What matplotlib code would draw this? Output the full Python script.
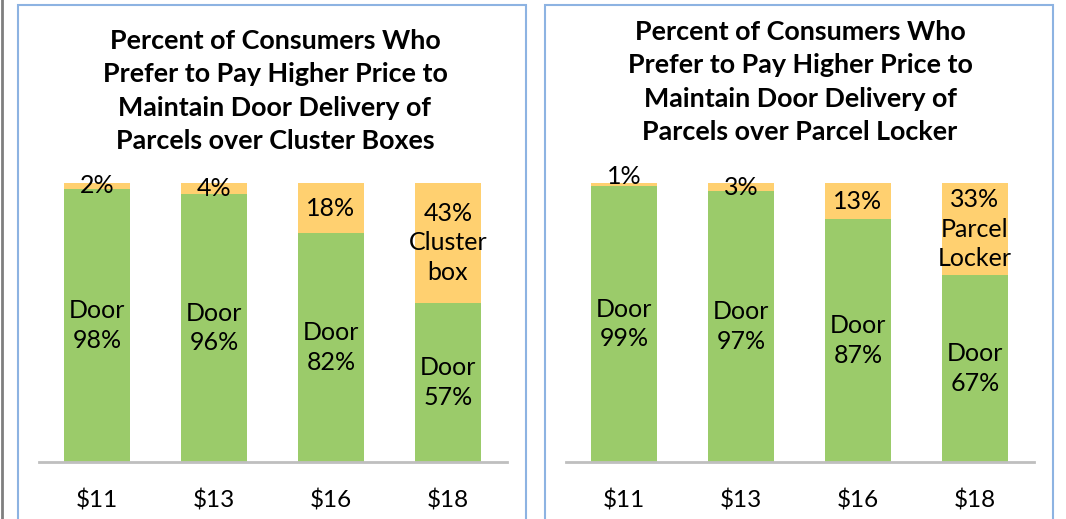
import matplotlib
matplotlib.use("Agg")
import matplotlib.pyplot as plt
from matplotlib.patches import Rectangle
from matplotlib.lines import Line2D

plt.rcParams['font.family'] = ['Lato', 'DejaVu Sans']

prices = ["$11", "$13", "$16", "$18"]
door_cluster = [98, 96, 82, 57]
cluster = [2, 4, 18, 43]
door_locker = [99, 97, 87, 67]
locker = [1, 3, 13, 33]

title_left = "Percent of Consumers Who\nPrefer to Pay Higher Price to\nMaintain Door Delivery of\nParcels over Cluster Boxes"
title_right = "Percent of Consumers Who\nPrefer to Pay Higher Price to\nMaintain Door Delivery of\nParcels over Parcel Locker"
alt_left = ["", "", "", "\nCluster\nbox"]
alt_right = ["", "", "", "\nParcel\nLocker"]

GREEN = "#9BCB6A"
ORANGE = "#FFD070"
W, H = 1066, 519
fig = plt.figure(figsize=(W / 100, H / 100), dpi=100)


def px_rect(x0, y0, x1, y1):
    return [x0 / W, 1 - y1 / H, (x1 - x0) / W, (y1 - y0) / H]


# panel borders
fig.add_artist(Line2D([2 / W, 2 / W], [0, 1], color="#7f7f7f", lw=2))
for x0, x1 in [(18, 526), (545, 1053)]:
    fig.add_artist(Rectangle((x0 / W, -0.05), (x1 - x0) / W, (1.05 - 5 / H),
                             fill=False, edgecolor="#8DB3E2", lw=1.5))


def panel(ax_rect, door, alt, alt_txt, title, title_xy):
    ax = fig.add_axes(px_rect(*ax_rect))
    x = list(range(len(prices)))
    ax.bar(x, door, width=0.565, color=GREEN)
    ax.bar(x, alt, width=0.565, bottom=door, color=ORANGE)
    ax.set_xlim(-0.5, 3.5)
    ax.set_ylim(0, 100)
    for s in ["top", "right", "left"]:
        ax.spines[s].set_visible(False)
    ax.spines["bottom"].set_color("#BFBFBF")
    ax.spines["bottom"].set_linewidth(2)
    ax.set_yticks([])
    ax.set_xticks(x)
    ax.set_xticklabels(prices, fontsize=17.5)
    ax.tick_params(axis="x", length=0, pad=20)
    for i in x:
        ax.text(i, door[i] / 2, f"Door\n{door[i]}%", ha="center", va="center",
                fontsize=18, linespacing=1.34)
        yc = door[i] + alt[i] / 2
        if alt[i] <= 1:
            yc += 3
        ax.text(i, yc, f"{alt[i]}%{alt_txt[i]}", ha="center", va="center",
                fontsize=18, linespacing=1.34)
    fig.text(title_xy[0] / W, 1 - title_xy[1] / H, title, ha="center", va="center",
             fontsize=19.4, fontweight="bold", linespacing=1.48)


panel((38.5, 183, 506.5, 462), door_cluster, cluster, alt_left, title_left, (275, 91))
panel((565.5, 183, 1033.5, 462), door_locker, locker, alt_right, title_right, (800, 82))

fig.savefig("out.png", dpi=100)
